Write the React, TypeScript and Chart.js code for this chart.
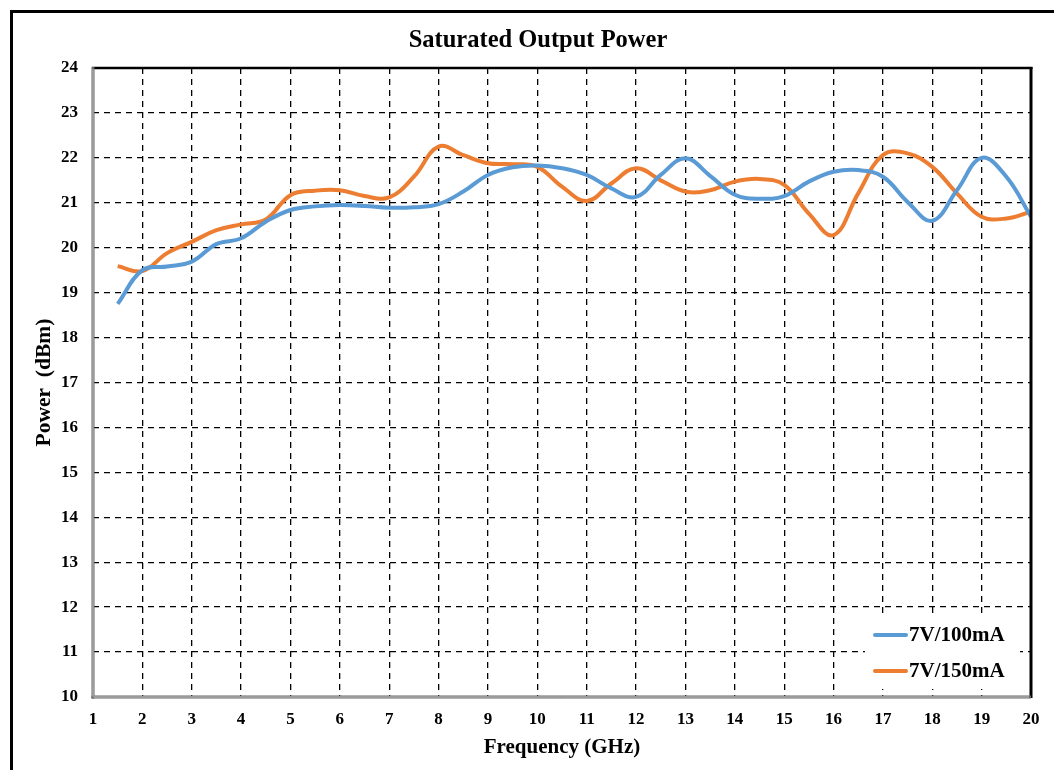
import { useEffect, useRef } from "react";
import { Chart, registerables } from "chart.js";

Chart.register(...registerables);

// Frequency sweep points (GHz)
const frequencies = [
  1.5, 2, 2.5, 3, 3.5, 4, 4.5, 5, 5.5, 6, 6.5, 7, 7.5, 8, 8.5, 9, 9.5, 10,
  10.5, 11, 11.5, 12, 12.5, 13, 13.5, 14, 14.5, 15, 15.5, 16, 16.5, 17, 17.5,
  18, 18.5, 19, 19.5, 20,
];

// Saturated output power at 7V/100mA (dBm)
const power100mA = [
  18.75, 19.5, 19.58, 19.69, 20.08, 20.21, 20.58, 20.84, 20.92, 20.95, 20.93,
  20.89, 20.9, 20.97, 21.25, 21.62, 21.79, 21.83, 21.77, 21.62, 21.32, 21.13,
  21.62, 21.99, 21.6, 21.18, 21.09, 21.15, 21.47, 21.69, 21.73, 21.58, 21.02,
  20.6, 21.28, 22.0, 21.58, 20.69,
];

// Saturated output power at 7V/150mA (dBm)
const power150mA = [
  19.59, 19.48, 19.88, 20.13, 20.39, 20.52, 20.63, 21.17, 21.27, 21.28, 21.15,
  21.12, 21.58, 22.25, 22.06, 21.88, 21.86, 21.8, 21.36, 21.04, 21.43, 21.77,
  21.5, 21.25, 21.28, 21.47, 21.53, 21.4, 20.76, 20.28, 21.21, 22.06, 22.1,
  21.8, 21.21, 20.69, 20.65, 20.8,
];

const seriesNames = ["7V/100mA", "7V/150mA"];
const seriesColors = ["#5B9BD5", "#ED7D31"];

const freqTicks = [1, 2, 3, 4, 5, 6, 7, 8, 9, 10, 11, 12, 13, 14, 15, 16, 17, 18, 19, 20];
const powerTicks = [10, 11, 12, 13, 14, 15, 16, 17, 18, 19, 20, 21, 22, 23, 24];

const chartTitle = "Saturated Output Power";
const xTitle = "Frequency (GHz)";
const yTitle = "Power  (dBm)";

const FONT = "'Liberation Serif', 'Times New Roman', serif";

const framePlugin = {
  id: "frame",
  beforeDraw(chart: any) {
    const { ctx, width, height } = chart;
    ctx.save();
    ctx.fillStyle = "#ffffff";
    ctx.fillRect(0, 0, width, height);
    ctx.restore();
  },
  afterDraw(chart: any) {
    const { ctx } = chart;
    const { left, right, top, bottom } = chart.chartArea;
    ctx.save();

    // outer frame
    ctx.strokeStyle = "#000";
    ctx.lineWidth = 3;
    ctx.strokeRect(11.5, 11.5, 1200, 1200);

    // plot box: gray double rule on left/bottom, black on top/right
    const line = (x1: number, y1: number, x2: number, y2: number) => {
      ctx.beginPath();
      ctx.moveTo(x1, y1);
      ctx.lineTo(x2, y2);
      ctx.stroke();
    };
    ctx.strokeStyle = "#000";
    ctx.lineWidth = 2.5;
    line(left - 1, top, right + 1.5, top);
    ctx.lineWidth = 3;
    line(right, top - 1, right, bottom + 1);

    ctx.strokeStyle = "#666666";
    ctx.lineWidth = 3;
    line(left, top - 1, left, bottom + 1.5);
    line(left - 1.5, bottom, right, bottom);
    ctx.strokeStyle = "#d0d0d0";
    ctx.lineWidth = 1;
    line(left, top + 1, left, bottom - 0.5);
    line(left + 0.5, bottom, right - 2, bottom);

    // chart title
    ctx.fillStyle = "#000";
    ctx.font = `bold 24.5px ${FONT}`;
    ctx.textAlign = "center";
    ctx.textBaseline = "alphabetic";
    ctx.fillText(chartTitle, 538, 47);

    // legend
    const lx = 865;
    const ly = 616;
    ctx.fillStyle = "#fff";
    ctx.fillRect(lx, ly, 155, 73);
    ctx.font = `bold 21px ${FONT}`;
    ctx.textAlign = "left";
    ctx.textBaseline = "middle";
    seriesNames.forEach((name, i) => {
      const y = 635 + i * 36;
      ctx.strokeStyle = seriesColors[i];
      ctx.lineWidth = 4;
      ctx.lineCap = "round";
      line(875, y, 906, y);
      ctx.fillStyle = "#000";
      ctx.fillText(name, 909, y + 1);
    });

    ctx.restore();
  },
};

export default function App() {
  const canvasRef = useRef<HTMLCanvasElement | null>(null);

  useEffect(() => {
    if (!canvasRef.current) return;
    const toPoints = (ys: number[]) => frequencies.map((x, i) => ({ x, y: ys[i] }));
    const edgeColor = (min: number, max: number) => (ctx: any) =>
      ctx.tick && (ctx.tick.value === min || ctx.tick.value === max) ? "rgba(0,0,0,0)" : "#000";

    const chart = new Chart(canvasRef.current, {
      type: "line",
      data: {
        datasets: [
          {
            label: seriesNames[0],
            data: toPoints(power100mA),
            borderColor: seriesColors[0],
            borderWidth: 4,
            pointRadius: 0,
            tension: 0.4,
            fill: false,
          },
          {
            label: seriesNames[1],
            data: toPoints(power150mA),
            borderColor: seriesColors[1],
            borderWidth: 4,
            pointRadius: 0,
            tension: 0.4,
            fill: false,
          },
        ],
      },
      options: {
        responsive: false,
        animation: false,
        layout: { padding: { left: 0, top: 68, right: 23, bottom: 0 } },
        plugins: {
          legend: { display: false },
          title: { display: false },
          tooltip: { enabled: false },
        },
        scales: {
          x: {
            type: "linear",
            min: 1,
            max: 20,
            afterBuildTicks: (s: any) => {
              s.ticks = freqTicks.map((v) => ({ value: v }));
            },
            afterFit: (s: any) => {
              s.height = 73;
            },
            grid: { color: edgeColor(1, 20), lineWidth: 1.3, drawTicks: false },
            border: { display: false, dash: [6, 5] },
            ticks: {
              color: "#000",
              padding: 12,
              maxRotation: 0,
              font: { family: FONT, size: 17, weight: "bold" },
            },
            title: {
              display: true,
              text: xTitle,
              color: "#000",
              padding: { top: 0, bottom: 10 },
              font: { family: FONT, size: 21, weight: "bold" },
            },
          },
          y: {
            min: 10,
            max: 24,
            afterBuildTicks: (s: any) => {
              s.ticks = powerTicks.map((v) => ({ value: v }));
            },
            afterFit: (s: any) => {
              s.width = 93;
            },
            grid: { color: edgeColor(10, 24), lineWidth: 1.3, drawTicks: false },
            border: { display: false, dash: [6, 5] },
            ticks: {
              color: "#000",
              padding: 15,
              font: { family: FONT, size: 17, weight: "bold" },
            },
            title: {
              display: true,
              text: yTitle,
              color: "#000",
              padding: { top: 32, bottom: 0 },
              font: { family: FONT, size: 21.5, weight: "bold" },
            },
          },
        },
      },
      plugins: [framePlugin],
    });

    return () => chart.destroy();
  }, []);

  return (
    <div style={{ position: "fixed", left: 0, top: 0, width: 1054, height: 770, background: "#fff" }}>
      <canvas ref={canvasRef} width={1054} height={770} style={{ display: "block" }} />
    </div>
  );
}
